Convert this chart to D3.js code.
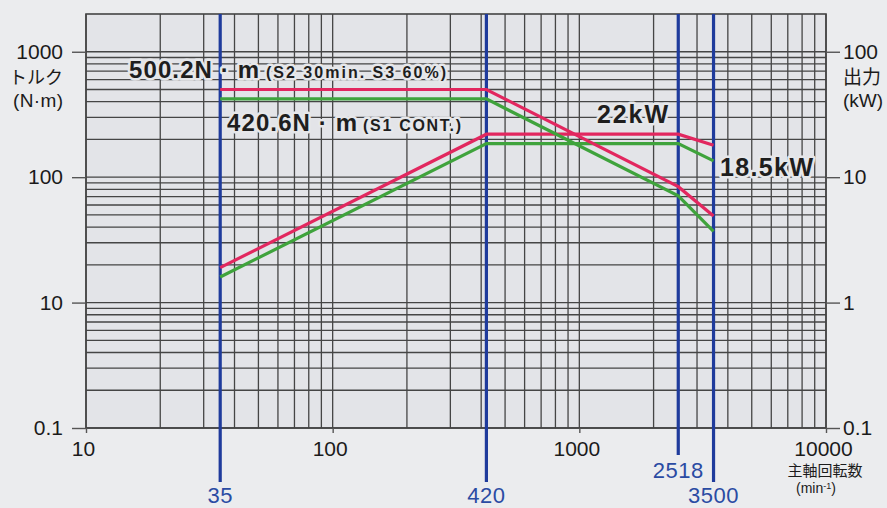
<!DOCTYPE html>
<html><head><meta charset="utf-8">
<script src="https://cdn.jsdelivr.net/npm/d3@7"></script>
<style>
html,body{margin:0;padding:0;background:#ebecee;}
svg{display:block;}
</style></head><body>
<svg id="c" width="887" height="508"></svg>
<script>
// ---- data ----
const speeds = [35, 420, 2518, 3500];
const s2Torque = [500.2, 500.2, 84, 49];
const s1Torque = [420.6, 420.6, 71, 37];
const s2Power = [1.9, 22, 22, 18];
const s1Power = [1.6, 18.5, 18.5, 13.5];
const xTickValues = [10, 100, 1000, 10000];
const xTickLabels = ["10", "100", "1000", "10000"];
const torqueTickValues = [1, 10, 100, 1000];
const torqueTickLabels = ["0.1", "10", "100", "1000"];
const powerTickValues = [0.1, 1, 10, 100];
const powerTickLabels = ["0.1", "1", "10", "100"];
const markerSpeeds = [35, 420, 2518, 3500];
const markerLabels = ["35", "420", "2518", "3500"];

const L = 86, R = 826, T = 14, B = 428;
const svg = d3.select("#c");
const font = "'Liberation Sans', Arial, Helvetica, sans-serif";
const cjk = "'Noto Sans CJK JP', 'Noto Sans', sans-serif";

const x = d3.scaleLog().domain([10, 10000]).range([L, R]);
const yT = d3.scaleLog().domain([1, 2000]).range([B, T]);
const yP = d3.scaleLog().domain([0.1, 200]).range([B, T]);

// plot background
svg.append("rect").attr("x", L).attr("y", T).attr("width", R - L).attr("height", B - T).attr("fill", "#e3e4e8");

// grid
const gridX = [];
[10, 100, 1000].forEach(d => { for (let k = 1; k <= 9; k++) gridX.push(d * k); });
gridX.push(10000);
const gridY = [];
[1, 10, 100].forEach(d => { for (let k = 1; k <= 9; k++) gridY.push(d * k); });
gridY.push(1000);

const g = svg.append("g");
g.selectAll("line.gx").data(gridX).join("line")
  .attr("x1", d => x(d)).attr("x2", d => x(d)).attr("y1", T).attr("y2", B)
  .attr("stroke", "#454545").attr("stroke-width", 1.3);
g.selectAll("line.gy").data(gridY).join("line")
  .attr("x1", L).attr("x2", R).attr("y1", d => yT(d)).attr("y2", d => yT(d))
  .attr("stroke", "#454545").attr("stroke-width", 1.3);
svg.append("rect").attr("x", L).attr("y", T).attr("width", R - L).attr("height", B - T)
  .attr("fill", "none").attr("stroke", "#444").attr("stroke-width", 1.6);

// axes
function styleAxis(sel, size) {
  sel.select(".domain").remove();
  sel.selectAll(".tick line").attr("stroke", "#555").attr("stroke-width", 1.4);
  sel.selectAll(".tick text").attr("fill", "#1b1b1b").style("font-family", font).style("font-size", size + "px");
}
const axL = svg.append("g").attr("transform", `translate(${L},0)`)
  .call(d3.axisLeft(yT).tickValues(torqueTickValues).tickFormat((d, i) => torqueTickLabels[i]).tickSize(14).tickPadding(9));
styleAxis(axL, 21);
const axR = svg.append("g").attr("transform", `translate(${R},0)`)
  .call(d3.axisRight(yP).tickValues(powerTickValues).tickFormat((d, i) => powerTickLabels[i]).tickSize(14).tickPadding(3));
styleAxis(axR, 21);
const axB = svg.append("g").attr("transform", `translate(0,${B})`)
  .call(d3.axisBottom(x).tickValues(xTickValues).tickFormat((d, i) => xTickLabels[i]).tickSize(5).tickPadding(8));
styleAxis(axB, 21);
axB.selectAll(".tick text").attr("dx", -3);

// axis titles
function label(txt, xx, yy, size, anchor, fam, color) {
  return svg.append("text").attr("x", xx).attr("y", yy).attr("text-anchor", anchor || "start")
    .style("font-family", fam || font).style("font-size", size + "px").attr("fill", color || "#1b1b1b").text(txt);
}
label("トルク", 63, 84, 18, "end", cjk);
label("(N·m)", 63, 107, 19, "end", font).attr("textLength", 50).attr("lengthAdjust", "spacing");
label("出力", 843, 84, 19, "start", cjk);
label("(kW)", 843, 107, 19, "start", font);
label("主軸回転数", 825, 476, 15, "middle", cjk);
const mn = label("(min", 816, 493, 14, "middle", font);
mn.append("tspan").attr("dy", -4).style("font-size", "9px").text("-1");
mn.append("tspan").attr("dy", 4).text(")");

// blue markers
const blue = "#1f3b9c";
const mk = svg.append("g");
mk.selectAll("line").data(markerSpeeds).join("line")
  .attr("x1", d => x(d)).attr("x2", d => x(d))
  .attr("y1", T).attr("y2", (d, i) => i === 2 ? 455 : 482)
  .attr("stroke", blue).attr("stroke-width", 3.2);
mk.selectAll("text").data(markerSpeeds).join("text")
  .attr("x", d => x(d)).attr("y", (d, i) => i === 2 ? 478 : 503)
  .attr("text-anchor", "middle").attr("fill", "#2a4ba3")
  .style("font-family", font).style("font-size", "22px").style("letter-spacing", "0.5px")
  .text((d, i) => markerLabels[i]);

// curves
const line = (yScale) => d3.line().x(d => x(d[0])).y(d => yScale(d[1]));
const red = "#e2275f", green = "#3fa33c";
function curve(vals, yScale, color) {
  svg.append("path").datum(speeds.map((s, i) => [s, vals[i]]))
    .attr("d", line(yScale)).attr("fill", "none").attr("stroke", color)
    .attr("stroke-width", 3.2).attr("stroke-linejoin", "miter");
}
curve(s1Power, yP, green);
curve(s2Power, yP, red);
curve(s1Torque, yT, green);
curve(s2Torque, yT, red);

// annotations
function ann(txt, xx, yy, size, len) {
  const t = svg.append("text").attr("x", xx).attr("y", yy)
    .style("font-family", font).style("font-size", size + "px").style("font-weight", "bold")
    .attr("fill", "#1e1e1e").attr("stroke", "#e6e7ea").attr("stroke-width", 5)
    .attr("paint-order", "stroke").attr("stroke-linejoin", "round").text(txt);
  if (len) t.attr("textLength", len).attr("lengthAdjust", "spacing");
  return t;
}
ann("500.2N · m", 129, 78, 24, 130);
ann("(S2 30min. S3 60%)", 266, 78, 16, 180);
ann("420.6N · m", 227, 131, 24, 130);
ann("(S1 CONT.)", 363, 131, 16, 98);
ann("22kW", 597, 123, 25, 71);
ann("18.5kW", 720, 176, 25, 93);
</script>
</body></html>
